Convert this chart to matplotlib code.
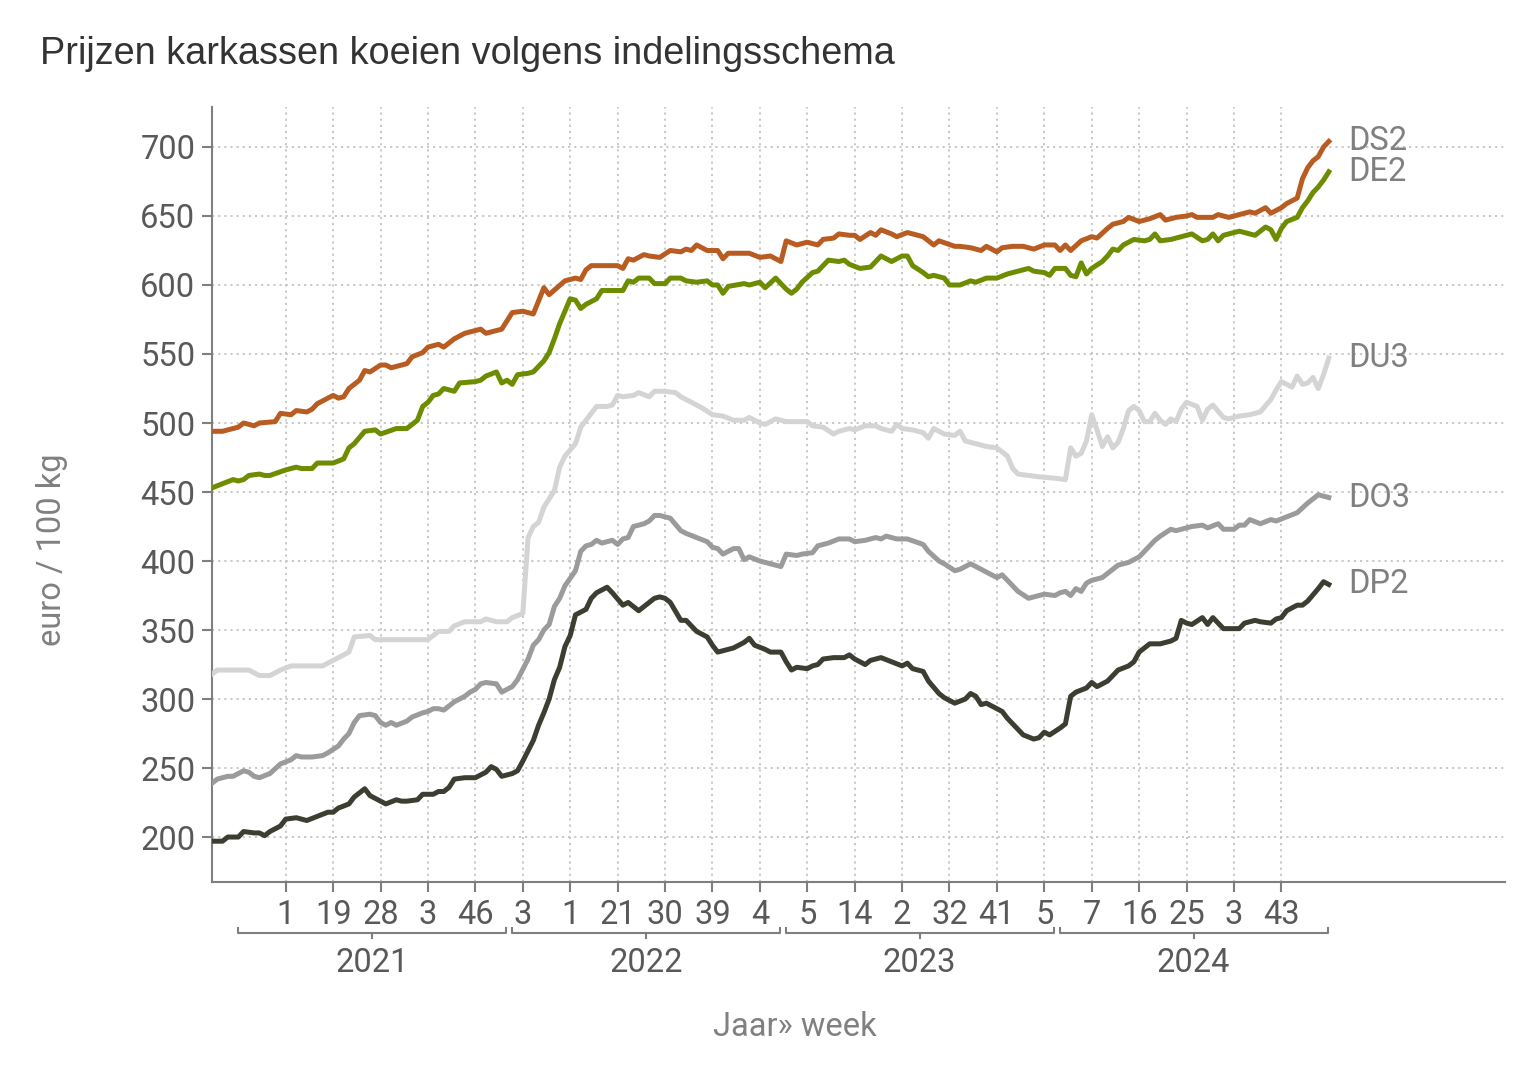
import matplotlib
matplotlib.use("Agg")
import matplotlib.pyplot as plt

# =========================
# DATA (week index since start, euro / 100 kg)
# =========================
DS2_WEEKS = [0, 2, 5, 6, 8, 9, 12, 13, 15, 16, 18, 19, 20, 23, 24, 25, 26, 28, 29, 30,
             32, 33, 34, 37, 38, 40, 41, 43, 44, 46, 48, 51, 52, 55, 57, 59, 61, 63, 64, 67,
             69, 70, 71, 72, 77, 78, 79, 80, 82, 83, 85, 87, 89, 90, 91, 92, 94, 96, 97, 98,
             102, 104, 106, 107, 108, 109, 111, 113, 115, 116, 118, 119, 121, 122, 123, 125, 126, 127, 129, 130,
             132, 135, 136, 137, 138, 141, 142, 144, 146, 147, 149, 150, 152, 154, 156, 158, 160, 161, 162, 163,
             165, 167, 168, 170, 171, 173, 174, 176, 178, 180, 181, 183, 185, 186, 187, 190, 191, 193, 195, 197,
             198, 200, 201, 202, 203, 204, 206, 207, 208, 209, 210, 211, 212]
DS2 = [494, 494, 497, 500, 498, 500, 501, 507, 506, 509, 508, 510, 514, 520, 518, 519, 525, 531, 538, 537,
       542, 542, 540, 543, 548, 551, 555, 557, 555, 561, 565, 568, 565, 568, 580, 581, 579, 598, 593, 603,
       605, 604, 611, 614, 614, 612, 619, 618, 622, 621, 620, 625, 624, 626, 625, 629, 625, 625, 619, 623,
       623, 620, 621, 619, 617, 632, 629, 631, 629, 633, 634, 637, 636, 636, 633, 638, 636, 640, 637, 635,
       638, 635, 632, 629, 632, 628, 628, 627, 625, 628, 624, 627, 628, 628, 626, 629, 629, 625, 629, 625,
       632, 635, 634, 641, 644, 646, 649, 646, 648, 651, 647, 649, 650, 651, 649, 649, 651, 649, 651, 653,
       652, 656, 652, 654, 656, 659, 663, 677, 685, 690, 693, 700, 704]

DE2_WEEKS = [0, 2, 4, 5, 6, 7, 9, 10, 11, 14, 16, 17, 19, 20, 23, 25, 26, 27, 29, 31,
             32, 35, 37, 39, 40, 41, 42, 43, 44, 46, 47, 50, 51, 52, 54, 55, 56, 57, 58, 60,
             61, 63, 64, 65, 66, 67, 68, 69, 70, 71, 73, 74, 76, 78, 79, 80, 81, 83, 84, 86,
             87, 89, 90, 92, 94, 95, 96, 97, 98, 101, 102, 104, 105, 107, 109, 110, 111, 112, 114, 115,
             117, 119, 120, 121, 123, 125, 126, 127, 129, 130, 131, 132, 133, 135, 136, 137, 139, 140, 142, 144,
             145, 147, 149, 151, 153, 155, 156, 158, 159, 160, 162, 163, 164, 165, 166, 167, 169, 170, 171, 172,
             173, 175, 177, 178, 179, 180, 182, 186, 188, 189, 190, 191, 192, 195, 198, 200, 201, 202, 203, 204,
             206, 207, 208, 209, 210, 211, 212]
DE2 = [453, 456, 459, 458, 459, 462, 463, 462, 462, 466, 468, 467, 467, 471, 471, 474, 482, 485, 494, 495,
       492, 496, 496, 502, 512, 515, 520, 521, 525, 523, 529, 530, 531, 534, 537, 529, 531, 528, 535, 536,
       537, 545, 551, 561, 572, 581, 590, 589, 583, 586, 590, 596, 596, 596, 603, 602, 605, 605, 601, 601,
       605, 605, 603, 602, 603, 600, 600, 594, 599, 601, 600, 602, 598, 605, 597, 594, 597, 602, 609, 610,
       618, 617, 618, 615, 612, 613, 617, 621, 617, 619, 621, 621, 614, 609, 606, 607, 605, 600, 600, 603,
       602, 605, 605, 608, 610, 612, 610, 609, 607, 612, 612, 607, 606, 616, 608, 612, 617, 621, 626, 625,
       629, 633, 632, 633, 637, 632, 633, 637, 632, 633, 637, 632, 636, 639, 636, 642, 640, 633, 641, 646,
       649, 656, 661, 667, 671, 676, 682]

DU3_WEEKS = [0, 1, 7, 9, 11, 13, 15, 21, 23, 24, 26, 27, 30, 31, 34, 41, 43, 45, 46, 48,
             51, 52, 54, 56, 57, 59, 60, 61, 62, 63, 64, 65, 66, 67, 69, 70, 71, 73, 75, 76,
             77, 78, 80, 81, 83, 84, 86, 88, 89, 90, 92, 93, 95, 97, 99, 101, 102, 104, 105, 107,
             109, 113, 114, 116, 118, 119, 121, 122, 124, 126, 127, 129, 130, 131, 133, 135, 136, 137, 139, 141,
             142, 143, 145, 147, 149, 151, 152, 153, 155, 157, 160, 162, 163, 164, 165, 166, 167, 168, 169, 170,
             171, 172, 173, 174, 175, 176, 177, 178, 179, 180, 181, 182, 183, 184, 185, 187, 188, 189, 190, 192,
             193, 195, 197, 199, 201, 202, 203, 205, 206, 207, 208, 209, 210, 211, 212]
DU3 = [318, 321, 321, 317, 317, 321, 324, 324, 328, 330, 334, 345, 346, 343, 343, 343, 349, 349, 353, 356,
       356, 358, 356, 356, 359, 362, 417, 425, 428, 439, 445, 451, 468, 476, 485, 497, 502, 512, 512, 513,
       520, 519, 520, 522, 519, 523, 523, 522, 519, 517, 513, 511, 506, 505, 502, 502, 504, 500, 499, 503,
       501, 501, 498, 497, 492, 494, 496, 495, 498, 498, 496, 494, 499, 496, 495, 493, 489, 496, 492, 491,
       494, 487, 485, 483, 482, 476, 467, 463, 462, 461, 460, 459, 482, 476, 478, 487, 506, 495, 483, 490,
       482, 486, 496, 509, 512, 509, 501, 501, 507, 502, 499, 503, 501, 510, 515, 512, 502, 510, 513, 504,
       503, 505, 506, 508, 517, 524, 530, 526, 534, 528, 529, 533, 525, 535, 547]

DO3_WEEKS = [0, 1, 3, 4, 6, 7, 8, 9, 11, 13, 15, 16, 17, 19, 21, 22, 24, 25, 26, 27,
             28, 30, 31, 32, 33, 34, 35, 37, 38, 40, 41, 42, 43, 44, 46, 48, 49, 50, 51, 52,
             54, 55, 57, 58, 60, 61, 62, 63, 64, 65, 66, 67, 69, 70, 71, 72, 73, 74, 76, 77,
             78, 79, 80, 82, 83, 84, 85, 86, 87, 89, 90, 92, 94, 95, 96, 97, 99, 100, 101, 102,
             104, 106, 108, 109, 111, 112, 114, 115, 117, 119, 121, 122, 124, 126, 127, 128, 130, 132, 135, 136,
             138, 139, 141, 142, 144, 146, 147, 149, 150, 151, 153, 155, 157, 158, 160, 161, 162, 163, 164, 165,
             166, 167, 169, 171, 172, 174, 176, 177, 179, 180, 182, 183, 185, 186, 188, 189, 191, 192, 194, 195,
             196, 197, 199, 201, 202, 204, 206, 208, 210, 211, 212]
DO3 = [239, 242, 244, 244, 248, 247, 244, 243, 246, 253, 256, 259, 258, 258, 259, 261, 266, 271, 275, 283,
       288, 289, 288, 283, 281, 283, 281, 284, 287, 290, 291, 293, 293, 292, 298, 302, 305, 307, 311, 312,
       311, 305, 309, 314, 329, 339, 343, 350, 354, 367, 373, 382, 393, 407, 411, 412, 415, 413, 415, 412,
       416, 417, 425, 427, 429, 433, 433, 432, 431, 422, 420, 417, 414, 410, 409, 405, 409, 409, 401, 403,
       400, 398, 396, 405, 404, 405, 406, 411, 413, 416, 416, 414, 415, 417, 416, 418, 416, 416, 412, 407,
       400, 398, 393, 394, 398, 394, 392, 388, 390, 386, 378, 373, 375, 376, 375, 377, 378, 375, 380, 378,
       384, 386, 388, 394, 397, 399, 403, 407, 415, 418, 423, 422, 424, 425, 426, 424, 427, 423, 423, 426,
       426, 430, 427, 430, 429, 432, 435, 442, 448, 447, 446]

DP2_WEEKS = [0, 2, 3, 5, 6, 8, 9, 10, 11, 13, 14, 16, 18, 20, 22, 23, 24, 26, 27, 29,
             30, 32, 33, 35, 36, 37, 39, 40, 42, 43, 44, 45, 46, 48, 50, 52, 53, 54, 55, 57,
             58, 59, 61, 62, 63, 64, 65, 66, 67, 68, 69, 71, 72, 73, 75, 76, 78, 79, 81, 83,
             84, 85, 86, 87, 89, 90, 92, 94, 95, 96, 98, 99, 101, 102, 103, 105, 106, 108, 109, 110,
             111, 113, 114, 115, 116, 118, 120, 121, 122, 124, 125, 127, 129, 131, 132, 133, 135, 136, 138, 139,
             141, 143, 144, 145, 146, 147, 148, 150, 151, 153, 154, 156, 157, 158, 159, 161, 162, 163, 164, 166,
             167, 168, 170, 171, 172, 174, 175, 176, 178, 180, 182, 183, 184, 185, 186, 188, 189, 190, 192, 195,
             196, 198, 199, 201, 202, 203, 204, 206, 207, 208, 210, 211, 212]
DP2 = [197, 197, 200, 200, 204, 203, 203, 201, 204, 208, 213, 214, 212, 215, 218, 218, 221, 224, 229, 235,
       230, 226, 224, 227, 226, 226, 227, 231, 231, 233, 233, 236, 242, 243, 243, 247, 251, 249, 244, 246,
       248, 255, 270, 281, 290, 300, 314, 323, 338, 346, 361, 365, 373, 377, 381, 377, 368, 370, 364, 370,
       373, 374, 373, 370, 357, 357, 349, 345, 339, 334, 336, 337, 341, 344, 339, 336, 334, 334, 327, 321,
       323, 322, 324, 325, 329, 330, 330, 332, 329, 325, 328, 330, 327, 324, 326, 322, 320, 313, 304, 301,
       297, 300, 304, 302, 296, 297, 295, 291, 286, 278, 274, 271, 272, 276, 274, 279, 282, 302, 305, 308,
       312, 309, 313, 317, 321, 324, 327, 334, 340, 340, 342, 344, 357, 355, 354, 359, 354, 359, 351, 351,
       355, 357, 356, 355, 358, 359, 364, 368, 368, 371, 380, 385, 383]

SERIES = [
    ("DU3", DU3_WEEKS, DU3, "#d4d4d4"),
    ("DO3", DO3_WEEKS, DO3, "#9b9b9b"),
    ("DP2", DP2_WEEKS, DP2, "#3c3e31"),
    ("DE2", DE2_WEEKS, DE2, "#6e8c00"),
    ("DS2", DS2_WEEKS, DS2, "#b85c22"),
]

TICK_WEEKS = list(range(14, 204, 9))
TICK_LABELS = ["1", "19", "28", "3", "46", "3", "1", "21", "30", "39", "4",
               "5", "14", "2", "32", "41", "5", "7", "16", "25", "3", "43"]

YEARS = ["2021", "2022", "2023", "2024"]
YEAR_FIRST = [5, 57, 109, 161]
YEAR_LAST = [56, 108, 160, 212]

# =========================
# STYLE
# =========================
FONT = ["Roboto", "DejaVu Sans"]
TEXT_GREY = "#595959"
LABEL_GREY = "#808080"
AXIS_GREY = "#7f7f7f"
FS = 23.5

fig = plt.figure(figsize=(15.36, 10.88), dpi=100)
ax = fig.add_axes([0.138, 0.1893, 0.842, 0.7124])

for name, weeks, vals, col in SERIES:
    ax.plot(weeks, vals, color=col, lw=3.6, solid_joinstyle="round", zorder=3)
    ax.annotate(name, xy=(weeks[-1], vals[-1]), xytext=(14, 0),
                textcoords="offset points", va="center", ha="left",
                color=LABEL_GREY, fontsize=FS, family=FONT, annotation_clip=False)

ax.set_xlim(0, 245.5)
ax.set_ylim(167.4, 729)
ax.set_yticks(range(200, 701, 50))
ax.set_xticks(TICK_WEEKS)
ax.set_xticklabels(TICK_LABELS)

ax.grid(True, color="#c4c4c4", linestyle=(0, (1.2, 2.2)), linewidth=1.3, zorder=0)
for s in ["top", "right"]:
    ax.spines[s].set_visible(False)
for s in ["left", "bottom"]:
    ax.spines[s].set_color(AXIS_GREY)
    ax.spines[s].set_linewidth(1.5)

ax.tick_params(axis="both", colors=AXIS_GREY, width=1.5, length=7, labelsize=FS,
               labelcolor=TEXT_GREY, pad=5)
for lab in ax.get_xticklabels() + ax.get_yticklabels():
    lab.set_family(FONT)

# year brackets under the week labels
tr = ax.get_xaxis_transform()
for yr, a, b in zip(YEARS, YEAR_FIRST, YEAR_LAST):
    x0, x1 = a - 0.1, b - 0.2
    ax.plot([x0, x0, x1, x1], [-0.059, -0.0655, -0.0655, -0.059], transform=tr,
            color=AXIS_GREY, lw=1.5, clip_on=False)
    xm = (x0 + x1) / 2
    ax.plot([xm, xm], [-0.0655, -0.072], transform=tr, color=AXIS_GREY, lw=1.5, clip_on=False)
    ax.text(xm, -0.104, yr, transform=tr, ha="center", va="center",
            fontsize=FS, color=TEXT_GREY, family=FONT)

fig.text(795 / 1536, 1 - 1027 / 1088, "Jaar» week", ha="center", va="center",
         fontsize=FS, color=LABEL_GREY, family=FONT)
fig.text(52 / 1536, 1 - 550 / 1088, "euro / 100 kg", ha="center", va="center",
         rotation=90, fontsize=FS, color=LABEL_GREY, family=FONT)
fig.text(40 / 1536, 1 - 54 / 1088, "Prijzen karkassen koeien volgens indelingsschema",
         ha="left", va="center", fontsize=27.3, color="#333333",
         family=["Liberation Sans", "DejaVu Sans"])

fig.savefig("out.png", dpi=100)
